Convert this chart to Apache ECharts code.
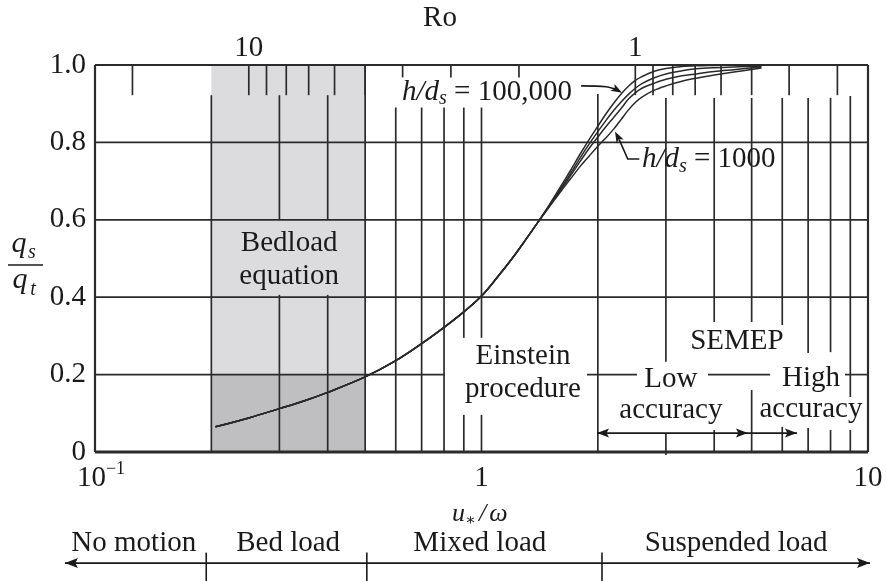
<!DOCTYPE html>
<html>
<head>
<meta charset="utf-8">
<script src="https://cdn.jsdelivr.net/npm/echarts@6/dist/echarts.min.js"></script>
<style>
  html, body { margin: 0; padding: 0; background: #ffffff; }
  #chart { width: 886px; height: 581px; }
</style>
</head>
<body>
<div id="chart"></div>
<script>
// Shear velocity over fall velocity, u*/ω (sample points shared by every curve)
const uOverOmega = [0.205, 0.25, 0.3, 0.35, 0.4, 0.5, 0.6, 0.7, 0.8, 0.9, 1.0, 1.1, 1.2, 1.3, 1.4,
  1.5, 1.6, 1.7, 1.8, 1.9, 2.0, 2.1, 2.2, 2.3, 2.4, 2.5, 2.6, 2.8, 3.0, 3.3, 3.6, 4.0, 4.5, 5.3];

// Suspended-to-total load ratio qs/qt for each relative depth h/ds
const qRatioHd100000 = [0.065, 0.088, 0.112, 0.133, 0.154, 0.194, 0.236, 0.28, 0.322, 0.362, 0.403, 0.452, 0.5, 0.548, 0.594,
  0.64, 0.685, 0.728, 0.77, 0.808, 0.842, 0.874, 0.902, 0.926, 0.945, 0.96, 0.97, 0.984, 0.991, 0.996, 0.998, 0.999, 1.0, 1.0];
const qRatioUpperMid = [0.065, 0.088, 0.112, 0.133, 0.154, 0.194, 0.236, 0.28, 0.322, 0.362, 0.403, 0.452, 0.5, 0.548, 0.594,
  0.638, 0.68, 0.72, 0.76, 0.796, 0.828, 0.857, 0.883, 0.905, 0.924, 0.94, 0.952, 0.967, 0.977, 0.985, 0.99, 0.993, 0.995, 0.997];
const qRatioLowerMid = [0.065, 0.088, 0.112, 0.133, 0.154, 0.194, 0.236, 0.28, 0.322, 0.362, 0.403, 0.452, 0.5, 0.548, 0.594,
  0.636, 0.676, 0.714, 0.751, 0.785, 0.814, 0.841, 0.865, 0.888, 0.912, 0.928, 0.94, 0.953, 0.963, 0.972, 0.977, 0.983, 0.988, 0.995];
const qRatioHd1000 = [0.065, 0.088, 0.112, 0.133, 0.154, 0.194, 0.236, 0.28, 0.322, 0.362, 0.403, 0.452, 0.5, 0.548, 0.594,
  0.634, 0.672, 0.706, 0.738, 0.765, 0.79, 0.812, 0.835, 0.86, 0.884, 0.903, 0.917, 0.935, 0.946, 0.958, 0.966, 0.974, 0.982, 0.992];

// Tick values of the top Rouse-number axis (Ro = 2.5 ω/u*)
const roTicks = [20, 10, 9, 8, 7, 6, 5, 4, 3, 2, 1, 0.9, 0.8, 0.7, 0.6, 0.5, 0.4, 0.3];
const roLabels = [10, 1];

// Bottom axis tick labels
const xTickLabels = { 0.1: '{b0|10}{sup|−1}', 1: '{b|1}', 10: '{b|10}' };
const yTicks = [0, 0.2, 0.4, 0.6, 0.8, 1.0];

// ---------- drawing layout ----------
const INK = '#1a1a1a';
const GRID_INK = '#2b2b2b';
const SERIF = "'Liberation Serif', 'DejaVu Serif', serif";
const FS = 29;

// vertical rules: [u*/ω, y from, y to] — broken where text sits
const vRules = [
  [0.2, 0, 0.922],
  [0.3, 0, 0.406], [0.3, 0.6, 0.922],
  [0.4, 0, 0.406], [0.4, 0.6, 0.922],
  [0.5, 0, 1],
  [0.6, 0, 0.89], [0.7, 0, 0.89], [0.8, 0, 0.89],
  [0.9, 0, 0.096], [0.9, 0.295, 0.89],
  [1.0, 0, 0.096], [1.0, 0.295, 0.89],
  [2, 0, 0.925],
  [3, -0.008, 0.049], [3, 0.233, 0.915],
  [4, 0, 0.057], [4, 0.336, 0.915],
  [5, 0, 0.16], [5, 0.336, 0.915],
  [6, 0, 0.065], [6, 0.328, 0.915],
  [7, 0, 0.062], [7, 0.256, 0.915],
  [8, 0, 0.057], [8, 0.258, 0.915],
  [9, 0, 0.057], [9, 0.142, 0.92]
];
// horizontal rules: [y, u*/ω from, u*/ω to]
const hRules = [
  [0.2, 0.1, 0.804], [0.2, 1.875, 2.525], [0.2, 3.855, 5.58], [0.2, 8.72, 10],
  [0.4, 0.1, 10], [0.6, 0.1, 10], [0.8, 0.1, 10]
];
// Ro ticks that stop short near the h/ds label
const shortRo = [4, 3, 2];

function lineEl(a, b, w, color) {
  return { type: 'line', shape: { x1: a[0], y1: a[1], x2: b[0], y2: b[1] },
    style: { stroke: color || GRID_INK, lineWidth: w || 1.7 } };
}
function headEl(tip, from, len, half) {
  const dx = tip[0] - from[0], dy = tip[1] - from[1];
  const d = Math.sqrt(dx * dx + dy * dy) || 1;
  const ux = dx / d, uy = dy / d;
  const bx = tip[0] - ux * len, by = tip[1] - uy * len;
  return { type: 'polygon', shape: { points: [
      tip, [bx - uy * half, by + ux * half], [bx + ux * 2.5, by + uy * 2.5], [bx + uy * half, by - ux * half]] },
    style: { fill: INK } };
}
function textEl(p, text, extra) {
  return { type: 'text', x: p[0], y: p[1], style: Object.assign({
    text: text, fill: INK, fontFamily: SERIF, fontSize: FS,
    align: 'center', verticalAlign: 'middle' }, extra || {}) };
}
const hdRich = {
  i: { fontFamily: SERIF, fontSize: FS, fontStyle: 'italic', fill: INK, lineHeight: 34 },
  sub: { fontFamily: SERIF, fontSize: 20, fontStyle: 'italic', fill: INK, verticalAlign: 'bottom', lineHeight: 20 },
  n: { fontFamily: SERIF, fontSize: FS, fill: INK, lineHeight: 34 }
};

function renderAnnotations(params, api) {
  const c = (x, y) => api.coord([x, y]);
  const kids = [];
  // top axis title
  kids.push(textEl(c(0.781, 1.121), 'Ro'));
  // region labels inside the plot
  kids.push(textEl(c(0.318, 0.496), 'Bedload\nequation', { lineHeight: 33 }));
  kids.push(textEl(c(1.28, 0.204), 'Einstein\nprocedure', { lineHeight: 33 }));
  kids.push(textEl(c(4.58, 0.287), 'SEMEP'));
  kids.push(textEl(c(3.09, 0.147), 'Low\naccuracy', { lineHeight: 31 }));
  kids.push(textEl(c(7.12, 0.15), 'High\naccuracy', { lineHeight: 31 }));

  // h/ds labels with leaders
  kids.push(textEl(c(1.714, 0.93), '{i|h/d}{sub|s}{n| = 100,000}', { align: 'right', rich: hdRich }));
  kids.push(textEl(c(2.6, 0.755), '{i|h/d}{sub|s}{n| = 1000}', { align: 'left', rich: hdRich }));
  const t1 = [c(1.81, 0.946), c(2.1, 0.944), c(2.22, 0.938), c(2.31, 0.928)];
  kids.push({ type: 'polyline', shape: { points: t1.slice(0, 3), smooth: 0.3 }, style: { stroke: INK, lineWidth: 1.6, fill: null } });
  kids.push(headEl(t1[3], t1[2], 11, 4));
  const t2 = [c(2.56, 0.757), c(2.39, 0.757), c(2.27, 0.808), c(2.215, 0.828)];
  kids.push({ type: 'polyline', shape: { points: t2.slice(0, 3) }, style: { stroke: INK, lineWidth: 1.6, fill: null } });
  kids.push(headEl(t2[3], t2[2], 11, 4));

  // SEMEP accuracy ranges
  const lowA = c(1.99, 0.049), lowB = c(4.89, 0.049), highB = c(6.55, 0.049);
  kids.push(lineEl(lowA, highB, 1.7, INK));
  kids.push(headEl(lowA, lowB, 12, 4.5));
  kids.push(headEl(lowB, lowA, 12, 4.5));
  kids.push(headEl(highB, lowA, 12, 4.5));

  // transport regimes below the axis
  const yArrow = -0.287;
  const aL = c(0.0836, yArrow), aR = c(10.12, yArrow);
  kids.push(lineEl(aL, aR, 1.7, INK));
  kids.push(headEl(aL, aR, 13, 5));
  kids.push(headEl(aR, aL, 13, 5));
  [0.194, 0.505, 2.05].forEach(function (x) {
    kids.push(lineEl(c(x, -0.26), c(x, -0.34), 1.6, INK));
  });
  kids.push(textEl(c(0.126, -0.235), 'No motion'));
  kids.push(textEl(c(0.316, -0.235), 'Bed load'));
  kids.push(textEl(c(0.99, -0.235), 'Mixed load'));
  kids.push(textEl(c(4.56, -0.235), 'Suspended load'));
  kids.push(textEl(c(0.99, -0.16), '{i|u}{sub|∗}{n|/}{i|ω}', { rich: {
    i: { fontFamily: SERIF, fontSize: 26, fontStyle: 'italic', fill: INK, lineHeight: 30 },
    sub: { fontFamily: SERIF, fontSize: 16, fill: INK, verticalAlign: 'bottom', lineHeight: 14 },
    n: { fontFamily: SERIF, fontSize: 26, fontStyle: 'italic', fill: INK, lineHeight: 30, padding: [0, 3, 0, 3] }
  } }));
  return { type: 'group', children: kids };
}

const curveSeries = [qRatioHd100000, qRatioUpperMid, qRatioLowerMid, qRatioHd1000].map(function (vals, k) {
  return {
    type: 'line', name: 'curve' + k, xAxisIndex: 0, yAxisIndex: 0, z: 5,
    data: uOverOmega.map(function (u, i) { return [u, vals[i]]; }),
    smooth: 0.35, showSymbol: false, symbol: 'none', silent: true,
    lineStyle: { color: '#2a2a2a', width: 1.5 }
  };
});

const chart = echarts.init(document.getElementById('chart'), null, { renderer: 'canvas' });
chart.setOption({
  animation: false,
  backgroundColor: '#ffffff',
  textStyle: { fontFamily: SERIF },
  grid: { left: 95, right: 18, top: 65, bottom: 129, containLabel: false, outerBoundsMode: 'none' },
  xAxis: [{
    type: 'log', logBase: 10, min: 0.1, max: 10, position: 'bottom',
    axisLine: { show: false }, axisTick: { show: false }, splitLine: { show: false },
    axisLabel: {
      margin: 8, color: INK, fontFamily: SERIF, fontSize: FS,
      formatter: function (v) {
        const key = Object.keys(xTickLabels).find(function (k) { return Math.abs(Number(k) - v) < 1e-6 * Number(k); });
        return key ? xTickLabels[key] : '';
      },
      rich: {
        b: { fontFamily: SERIF, fontSize: FS, color: INK, lineHeight: 36 },
        b0: { fontFamily: SERIF, fontSize: FS, color: INK, lineHeight: 36, padding: [0, 0, 0, 12] },
        sup: { fontFamily: SERIF, fontSize: 18, color: INK, verticalAlign: 'top', lineHeight: 14 }
      }
    }
  }, {
    type: 'log', logBase: 10, min: 0.25, max: 25, inverse: true, position: 'top',
    axisLine: { show: false }, axisTick: { show: false }, splitLine: { show: false },
    axisLabel: {
      margin: 2, color: INK, fontFamily: SERIF, fontSize: FS,
      formatter: function (v) {
        const hit = roLabels.find(function (r) { return Math.abs(r - v) < 1e-6 * r; });
        return hit !== undefined ? String(hit) : '';
      }
    }
  }],
  yAxis: {
    type: 'value', min: 0, max: 1, interval: 0.2,
    axisLine: { show: false }, axisTick: { show: false }, splitLine: { show: false },
    axisLabel: {
      margin: 9, color: INK, fontFamily: SERIF, fontSize: FS,
      formatter: function (v) {
        const t = yTicks.find(function (y) { return Math.abs(y - v) < 1e-9; });
        return t === 0 ? '0' : t.toFixed(1);
      }
    }
  },
  series: [
    { // bedload-equation band
      type: 'custom', xAxisIndex: 0, yAxisIndex: 0, z: 1, silent: true,
      data: [[0.2, 0.5, 0, 1, 0], [0.2, 0.5, 0, 0.2, 1]],
      encode: { x: [0, 1], y: [2, 3] },
      renderItem: function (params, api) {
        const a = api.coord([api.value(0), api.value(3)]);
        const b = api.coord([api.value(1), api.value(2)]);
        return { type: 'rect', shape: { x: a[0], y: a[1], width: b[0] - a[0], height: b[1] - a[1] },
          style: { fill: api.value(4) ? '#bfbfc2' : '#dcdcdf' } };
      }
    },
    { // vertical rules
      type: 'custom', xAxisIndex: 0, yAxisIndex: 0, z: 3, silent: true,
      data: vRules, encode: { x: 0, y: [1, 2] },
      renderItem: function (params, api) {
        return lineEl(api.coord([api.value(0), api.value(1)]), api.coord([api.value(0), api.value(2)]), 1.7);
      }
    },
    { // horizontal rules
      type: 'custom', xAxisIndex: 0, yAxisIndex: 0, z: 3, silent: true,
      data: hRules, encode: { y: 0, x: [1, 2] },
      renderItem: function (params, api) {
        return lineEl(api.coord([api.value(1), api.value(0)]), api.coord([api.value(2), api.value(0)]), 1.7);
      }
    },
    { // plot frame
      type: 'custom', xAxisIndex: 0, yAxisIndex: 0, z: 4, silent: true,
      data: [[0]],
      renderItem: function (params, api) {
        const bl = api.coord([0.1, 0]), br = api.coord([10, 0]);
        const tl = api.coord([0.1, 1]), tr = api.coord([10, 1]);
        return { type: 'group', children: [
          lineEl(tl, tr, 2.2), lineEl(tl, bl, 2.2), lineEl(tr, br, 2.2), lineEl(bl, br, 2.8)
        ] };
      }
    },
    { // Ro ticks hanging from the top edge
      type: 'custom', xAxisIndex: 1, yAxisIndex: 0, z: 3, silent: true,
      data: roTicks.map(function (r) { return [r]; }),
      encode: { x: 0 },
      renderItem: function (params, api) {
        const r = api.value(0);
        const low = shortRo.indexOf(r) >= 0 ? 0.968 : 0.922;
        return lineEl(api.coord([r, 1]), api.coord([r, low]), 1.7);
      }
    }
  ].concat(curveSeries).concat([{
    type: 'custom', xAxisIndex: 0, yAxisIndex: 0, z: 6, silent: true,
    data: [[1, 0.5]], encode: { x: 0, y: 1 },
    renderItem: renderAnnotations
  }]),
  graphic: [
    { type: 'text', x: 19, y: 244, silent: true, style: { text: 'q', fontFamily: SERIF, fontSize: 30, fontStyle: 'italic', fill: INK, align: 'center', verticalAlign: 'middle' } },
    { type: 'text', x: 32, y: 253, silent: true, style: { text: 's', fontFamily: SERIF, fontSize: 20, fontStyle: 'italic', fill: INK, align: 'center', verticalAlign: 'middle' } },
    { type: 'line', silent: true, shape: { x1: 8, y1: 265, x2: 43, y2: 265 }, style: { stroke: INK, lineWidth: 1.5 } },
    { type: 'text', x: 20, y: 280, silent: true, style: { text: 'q', fontFamily: SERIF, fontSize: 30, fontStyle: 'italic', fill: INK, align: 'center', verticalAlign: 'middle' } },
    { type: 'text', x: 33, y: 290, silent: true, style: { text: 't', fontFamily: SERIF, fontSize: 20, fontStyle: 'italic', fill: INK, align: 'center', verticalAlign: 'middle' } }
  ]
});
</script>
</body>
</html>
